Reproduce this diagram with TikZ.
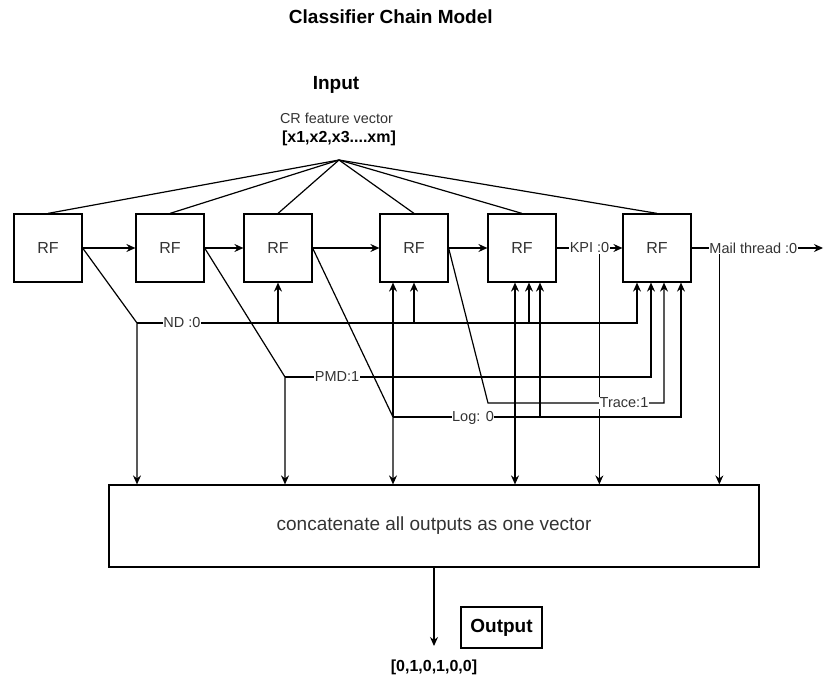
\documentclass[tikz,border=0pt]{standalone}
\usepackage{fontspec}
\setmainfont{Liberation Sans}
\usetikzlibrary{arrows.meta}
\tikzset{rfbox/.style={draw, minimum width=68, minimum height=68, inner sep=0pt, font=\fontsize{16}{18}\selectfont, text=black!80},
  lbl/.style={fill=white, inner sep=0.5pt, font=\fontsize{14.5}{17}\selectfont, text=black!80},
  bigbold/.style={font=\bfseries\fontsize{19}{22}\selectfont},
  arr/.style={-{Stealth[length=9pt, width=8pt, inset=3pt]}}}

\begin{document}
\begin{tikzpicture}[x=1pt, y=-1pt, line width=1.2pt]
  \useasboundingbox (0,0) rectangle (824,679);
  % Titles and input
  \node[bigbold, anchor=west] (title) at (285,17) {Classifier Chain Model};
  \node[bigbold] (inlbl) at (336,85) {Input};
  \node[font=\fontsize{14.4}{17}\selectfont, text=black!80] (crvec) at (336.5,118) {CR feature vector};
  \node[font=\bfseries\fontsize{16}{19}\selectfont] (xvec) at (339,138) {[x1,x2,x3....xm]};
  \coordinate (apex) at (339,160);
  % Classifiers
  \foreach \i/\x in {1/48, 2/170, 3/278, 4/414, 5/522, 6/657}
    \node[rfbox] (rf\i) at (\x,248) {RF};
  \node[draw, minimum width=650, minimum height=82, font=\fontsize{19}{22}\selectfont, text=black!80] (concat) at (434,526) {concatenate all outputs as one vector};
  \foreach \i in {1,...,6}
    \draw (apex) -- (rf\i.north);
  % Chain
  \draw[arr] (rf1) -- (rf2);
  \draw[arr] (rf2) -- (rf3);
  \draw[arr] (rf3) -- (rf4);
  \draw[arr] (rf4) -- (rf5);
  \coordinate (mailend) at (823,248);
  \draw[arr] (rf5) -- node[lbl] (kpi) {KPI :0} (rf6);
  \draw[arr] (rf6) -- node[lbl, pos=0.47] (mail) {Mail thread :0} (mailend);
  \coordinate (kpitap) at ([xshift=-11]kpi.south east);
  \coordinate (mailtap) at ([xshift=11]mail.south west);
  \draw[arr] (kpitap) -- (kpitap |- concat.north);
  \draw[arr] (mailtap) -- (mailtap |- concat.north);
  % Input taps under boxes
  \coordinate (rf4a) at ([xshift=-21]rf4.south);
  \coordinate (rf5a) at ([xshift=-7]rf5.south);
  \coordinate (rf5b) at ([xshift=7]rf5.south);
  \coordinate (rf5c) at ([xshift=18]rf5.south);
  \coordinate (rf6a) at ([xshift=-20]rf6.south);
  \coordinate (rf6b) at ([xshift=-6]rf6.south);
  \coordinate (rf6c) at ([xshift=7]rf6.south);
  \coordinate (rf6d) at ([xshift=24]rf6.south);
  \coordinate (ndc) at (137,323);
  \coordinate (pmdc) at (285,377);
  \coordinate (trc) at (488,403);
  \coordinate (logc) at (393,417);
  % ND
  \draw[arr] (rf1.east) -- (ndc) -- (ndc |- concat.north);
  \draw[arr] (ndc) -| (rf6a);
  \draw[arr] (ndc -| rf3.south) -- (rf3.south);
  \draw[arr] (ndc -| rf4.south) -- (rf4.south);
  \draw[arr] (ndc -| rf5b) -- (rf5b);
  % PMD
  \draw[arr] (rf2.east) -- (pmdc) -- (pmdc |- concat.north);
  \draw[arr] (pmdc) -| (rf6b);
  \draw[arr] (pmdc -| rf5a) -- (rf5a);
  \draw[arr] (pmdc -| rf5a) -- (rf5a |- concat.north);
  % Log
  \draw[arr] (rf3.east) -- (logc) -- (logc |- concat.north);
  \draw[arr] (logc) -- (rf4a);
  \draw[arr] (logc) -| (rf6d);
  \draw[arr] (logc -| rf5c) -- (rf5c);
  % Trace
  \draw[arr] (rf4.east) -- (trc) -| (rf6c);
  % Labels
  \node[lbl] (ndlbl) at (182,323) {ND :0};
  \node[lbl] (pmdlbl) at (337,377) {PMD:1};
  \node[lbl] (trlbl) at (624,403) {Trace:1};
  \node[lbl] (loglbl) at (473,418) {Log: 0};
  % Output
  \coordinate (outend) at (434,646);
  \draw[arr] (concat.south) -- (outend);
  \node[draw, minimum width=81, minimum height=41, bigbold] (outbox) at (501.5,627.5) {Output};
  \node[font=\bfseries\fontsize{16}{19}\selectfont] (result) at (434,667) {[0,1,0,1,0,0]};
\end{tikzpicture}
\end{document}
